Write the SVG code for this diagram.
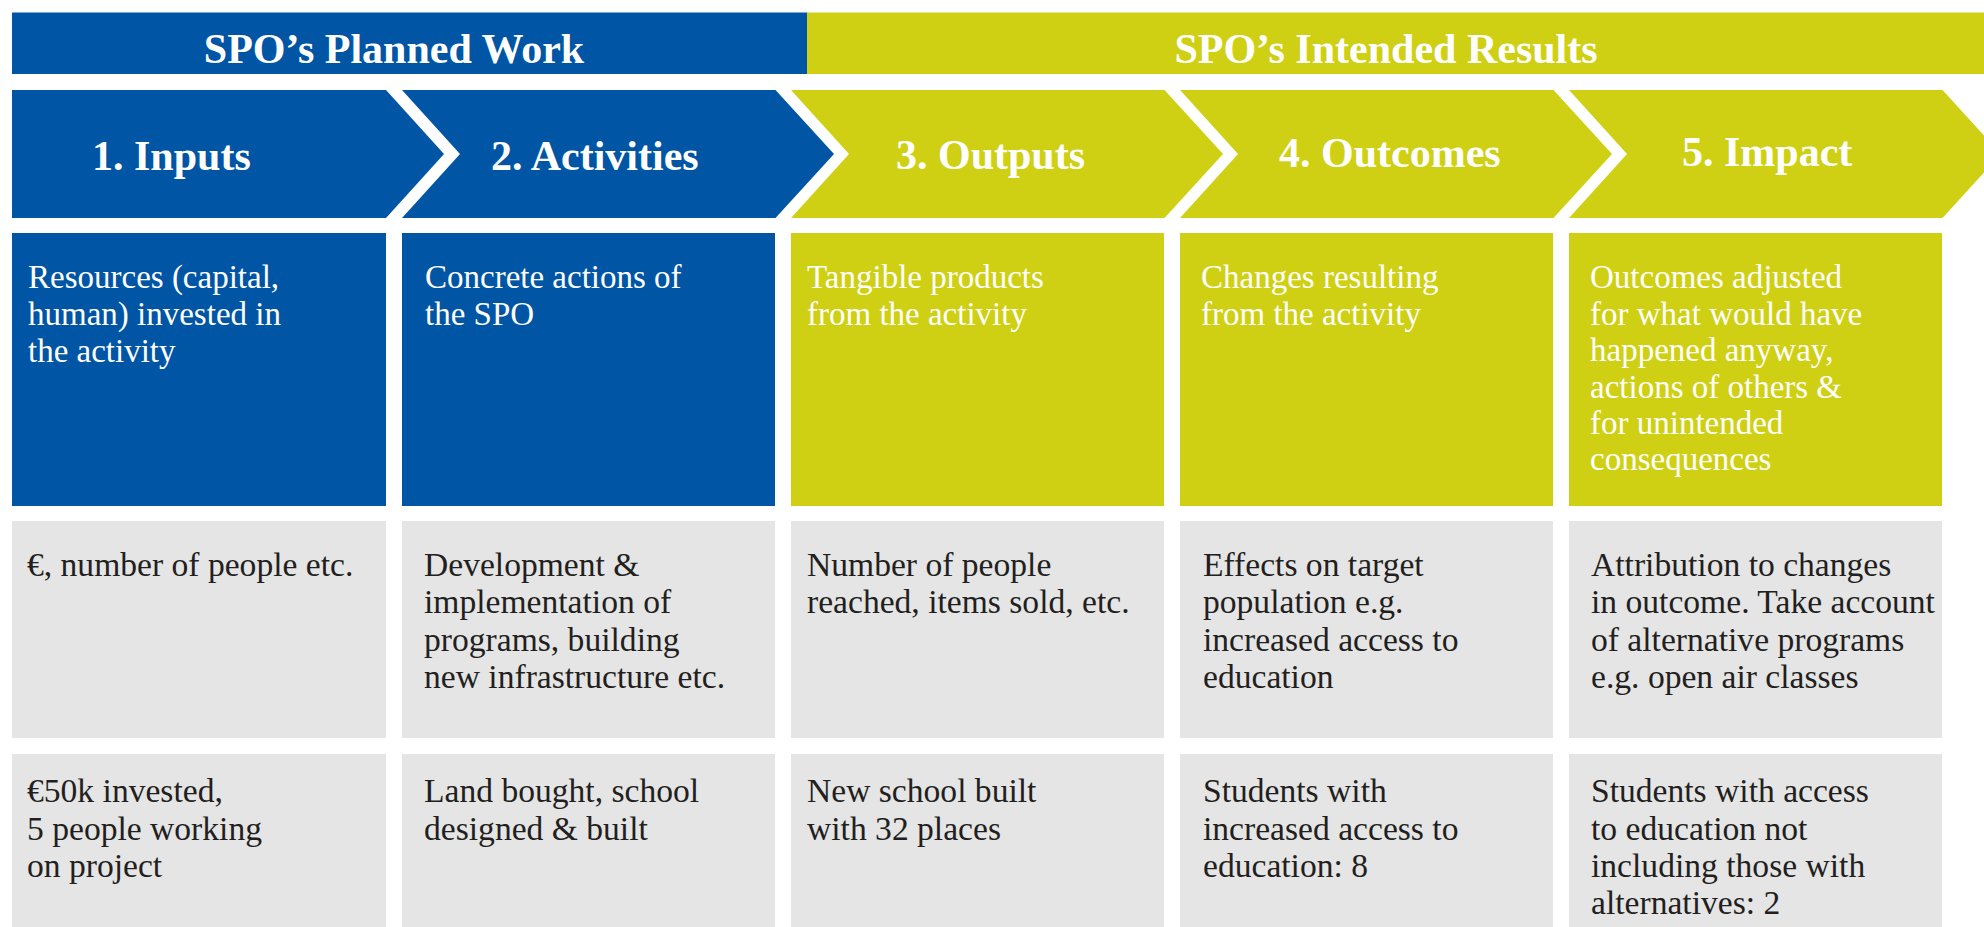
<svg xmlns="http://www.w3.org/2000/svg" width="1984" height="927" viewBox="0 0 1984 927">
<style>
.blue{fill:#0055A4}
.yel{fill:#CFD013}
.grey{fill:#E5E5E5}
.hdr{font-family:"Liberation Serif","Times New Roman",serif;font-weight:bold;font-size:42px;fill:#FFFFFF}
.chev{font-family:"Liberation Serif","Times New Roman",serif;font-weight:bold;font-size:42px;fill:#FFFFFF}
.wt{font-family:"Liberation Serif","Times New Roman",serif;font-size:33px;fill:#FFFFFF}
.dk{font-family:"Liberation Serif","Times New Roman",serif;font-size:33.6px;fill:#231F20}
</style>
<rect width="1984" height="927" fill="#FFFFFF"/>
<g id="header-planned">
<rect class="blue" x="12" y="12.5" width="795" height="61.5"/>
<text class="hdr" x="394" y="63" text-anchor="middle">SPO’s Planned Work</text>
</g>
<g id="header-results">
<rect class="yel" x="807" y="12.5" width="1177" height="61.5"/>
<text class="hdr" x="1386" y="63" text-anchor="middle">SPO’s Intended Results</text>
</g>
<g id="step1">
<polygon class="blue" points="12,90 386,90 444,154 386,218 12,218"/>
<text class="chev" x="92" y="170">1. Inputs</text>
</g>
<g id="step2">
<polygon class="blue" points="402,90 775.5,90 834,154 775.5,218 402,218 460,154"/>
<text class="chev" x="491" y="170">2. Activities</text>
</g>
<g id="step3">
<polygon class="yel" points="791,90 1164.5,90 1223,154 1164.5,218 791,218 849,154"/>
<text class="chev" x="896" y="169">3. Outputs</text>
</g>
<g id="step4">
<polygon class="yel" points="1180,90 1553.5,90 1612,154 1553.5,218 1180,218 1238,154"/>
<text class="chev" x="1279" y="167">4. Outcomes</text>
</g>
<g id="step5">
<polygon class="yel" points="1569,90 1942.5,90 2001,154 1942.5,218 1569,218 1627,154"/>
<text class="chev" x="1682" y="166">5. Impact</text>
</g>
<g id="desc1">
<rect class="blue" x="12" y="233" width="374" height="273"/>
<text class="wt"><tspan x="28" y="288">Resources (capital,</tspan><tspan x="28" y="325">human) invested in</tspan><tspan x="28" y="362">the activity</tspan></text>
</g>
<g id="desc2">
<rect class="blue" x="402" y="233" width="373" height="273"/>
<text class="wt"><tspan x="425" y="288">Concrete actions of</tspan><tspan x="425" y="325">the SPO</tspan></text>
</g>
<g id="desc3">
<rect class="yel" x="791" y="233" width="373" height="273"/>
<text class="wt"><tspan x="807" y="288">Tangible products</tspan><tspan x="807" y="325">from the activity</tspan></text>
</g>
<g id="desc4">
<rect class="yel" x="1180" y="233" width="373" height="273"/>
<text class="wt"><tspan x="1201" y="288">Changes resulting</tspan><tspan x="1201" y="325">from the activity</tspan></text>
</g>
<g id="desc5">
<rect class="yel" x="1569" y="233" width="373" height="273"/>
<text class="wt"><tspan x="1590" y="288">Outcomes adjusted</tspan><tspan x="1590" y="324.5">for what would have</tspan><tspan x="1590" y="361">happened anyway,</tspan><tspan x="1590" y="397.5">actions of others &amp;</tspan><tspan x="1590" y="434">for unintended</tspan><tspan x="1590" y="470">consequences</tspan></text>
</g>
<g id="measure1">
<rect class="grey" x="12" y="521" width="374" height="217"/>
<text class="dk"><tspan x="27" y="576">€, number of people etc.</tspan></text>
</g>
<g id="measure2">
<rect class="grey" x="402" y="521" width="373" height="217"/>
<text class="dk"><tspan x="424" y="576">Development &amp;</tspan><tspan x="424" y="613">implementation of</tspan><tspan x="424" y="651">programs, building</tspan><tspan x="424" y="688">new infrastructure etc.</tspan></text>
</g>
<g id="measure3">
<rect class="grey" x="791" y="521" width="373" height="217"/>
<text class="dk"><tspan x="807" y="576">Number of people</tspan><tspan x="807" y="613">reached, items sold, etc.</tspan></text>
</g>
<g id="measure4">
<rect class="grey" x="1180" y="521" width="373" height="217"/>
<text class="dk"><tspan x="1203" y="576">Effects on target</tspan><tspan x="1203" y="613">population e.g.</tspan><tspan x="1203" y="651">increased access to</tspan><tspan x="1203" y="688">education</tspan></text>
</g>
<g id="measure5">
<rect class="grey" x="1569" y="521" width="373" height="217"/>
<text class="dk"><tspan x="1591" y="576">Attribution to changes</tspan><tspan x="1591" y="613">in outcome. Take account</tspan><tspan x="1591" y="651">of alternative programs</tspan><tspan x="1591" y="688">e.g. open air classes</tspan></text>
</g>
<g id="example1">
<rect class="grey" x="12" y="754" width="374" height="173"/>
<text class="dk"><tspan x="27" y="802">€50k invested,</tspan><tspan x="27" y="839.5">5 people working</tspan><tspan x="27" y="877">on project</tspan></text>
</g>
<g id="example2">
<rect class="grey" x="402" y="754" width="373" height="173"/>
<text class="dk"><tspan x="424" y="802">Land bought, school</tspan><tspan x="424" y="839.5">designed &amp; built</tspan></text>
</g>
<g id="example3">
<rect class="grey" x="791" y="754" width="373" height="173"/>
<text class="dk"><tspan x="807" y="802">New school built</tspan><tspan x="807" y="839.5">with 32 places</tspan></text>
</g>
<g id="example4">
<rect class="grey" x="1180" y="754" width="373" height="173"/>
<text class="dk"><tspan x="1203" y="802">Students with</tspan><tspan x="1203" y="839.5">increased access to</tspan><tspan x="1203" y="877">education: 8</tspan></text>
</g>
<g id="example5">
<rect class="grey" x="1569" y="754" width="373" height="173"/>
<text class="dk"><tspan x="1591" y="802">Students with access</tspan><tspan x="1591" y="839.5">to education not</tspan><tspan x="1591" y="877">including those with</tspan><tspan x="1591" y="914">alternatives: 2</tspan></text>
</g>
<g id="connectors"/>
</svg>
